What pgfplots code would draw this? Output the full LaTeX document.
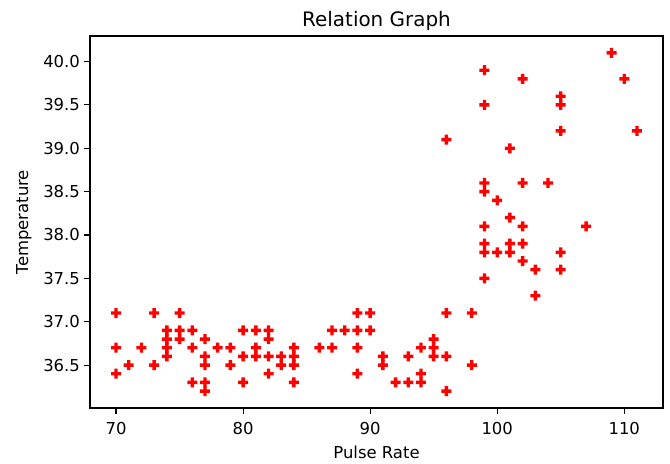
\documentclass[border=0pt]{standalone}
\usepackage{fontspec}
\setmainfont{DejaVu Sans}
\usepackage{pgfplots}
\usepackage{pgfplotstable}
\pgfplotsset{compat=1.18}
\pgfdeclareplotmark{Pfill}{%
  \pgfpathmoveto{\pgfqpoint{-0.34\pgfplotmarksize}{-\pgfplotmarksize}}%
  \pgfpathlineto{\pgfqpoint{0.34\pgfplotmarksize}{-\pgfplotmarksize}}%
  \pgfpathlineto{\pgfqpoint{0.34\pgfplotmarksize}{-0.34\pgfplotmarksize}}%
  \pgfpathlineto{\pgfqpoint{\pgfplotmarksize}{-0.34\pgfplotmarksize}}%
  \pgfpathlineto{\pgfqpoint{\pgfplotmarksize}{0.34\pgfplotmarksize}}%
  \pgfpathlineto{\pgfqpoint{0.34\pgfplotmarksize}{0.34\pgfplotmarksize}}%
  \pgfpathlineto{\pgfqpoint{0.34\pgfplotmarksize}{\pgfplotmarksize}}%
  \pgfpathlineto{\pgfqpoint{-0.34\pgfplotmarksize}{\pgfplotmarksize}}%
  \pgfpathlineto{\pgfqpoint{-0.34\pgfplotmarksize}{0.34\pgfplotmarksize}}%
  \pgfpathlineto{\pgfqpoint{-\pgfplotmarksize}{0.34\pgfplotmarksize}}%
  \pgfpathlineto{\pgfqpoint{-\pgfplotmarksize}{-0.34\pgfplotmarksize}}%
  \pgfpathlineto{\pgfqpoint{-0.34\pgfplotmarksize}{-0.34\pgfplotmarksize}}%
  \pgfpathclose
  \pgfusepathqfill
}
\pgfplotstableread{
x y
70 37.1
70 36.7
70 36.4
71 36.5
72 36.7
73 37.1
73 36.5
74 36.9
74 36.8
74 36.7
74 36.6
75 37.1
75 36.9
75 36.8
76 36.9
76 36.7
76 36.3
77 36.8
77 36.6
77 36.5
77 36.3
77 36.2
78 36.7
79 36.7
79 36.5
80 36.9
80 36.6
80 36.3
81 36.9
81 36.7
81 36.6
82 36.9
82 36.8
82 36.6
82 36.4
83 36.6
83 36.5
84 36.7
84 36.6
84 36.5
84 36.3
86 36.7
87 36.9
87 36.7
88 36.9
89 37.1
89 36.9
89 36.7
89 36.4
90 37.1
90 36.9
91 36.6
91 36.5
92 36.3
93 36.6
93 36.3
94 36.7
94 36.4
94 36.3
95 36.8
95 36.7
95 36.6
96 37.1
96 36.6
96 36.2
98 37.1
98 36.5
96 39.1
99 39.9
99 39.5
99 38.6
99 38.5
99 38.1
99 37.9
99 37.8
99 37.5
100 38.4
100 37.8
101 39.0
101 38.2
101 37.9
101 37.8
102 39.8
102 38.6
102 38.1
102 37.9
102 37.7
103 37.6
103 37.3
104 38.6
105 39.6
105 39.5
105 39.2
105 37.8
105 37.6
107 38.1
109 40.1
110 39.8
111 39.2
}\pulse
\begin{document}
\begin{tikzpicture}
\begin{axis}[name=ax, at={(0,0)}, anchor=south west,
  scale only axis, width=573bp, height=372bp,
  xmin=67.95, xmax=113.05, ymin=36.005, ymax=40.295,
  xtick={70,80,90,100,110},
  ytick={36.5,37,37.5,38,38.5,39,39.5,40},
  yticklabel style={/pgf/number format/fixed, /pgf/number format/fixed zerofill, /pgf/number format/precision=1, xshift=-1bp},
  /pgf/number format/assume math mode=true,
  tick align=outside, major tick length=5.6bp,
  tick style={black, line width=1.1bp},
  axis line style={line width=1.1bp},
  tick pos=left,
  font=\fontsize{16.5}{19}\selectfont,
  title={Relation Graph},
  title style={font=\fontsize{20}{24}\selectfont, yshift=-4bp},
  xlabel={Pulse Rate},
  ylabel={Temperature},
  xlabel style={yshift=-5bp},
  ylabel style={yshift=5bp},
  xticklabel style={yshift=-5bp},
]
\addplot[only marks, mark=Pfill, mark size=5bp, color=red] table[x=x,y=y] {\pulse};
\end{axis}
\path[use as bounding box] ([xshift=-90bp,yshift=-56bp]ax.south west) rectangle ([xshift=7bp,yshift=36bp]ax.north east);
\end{tikzpicture}
\end{document}
